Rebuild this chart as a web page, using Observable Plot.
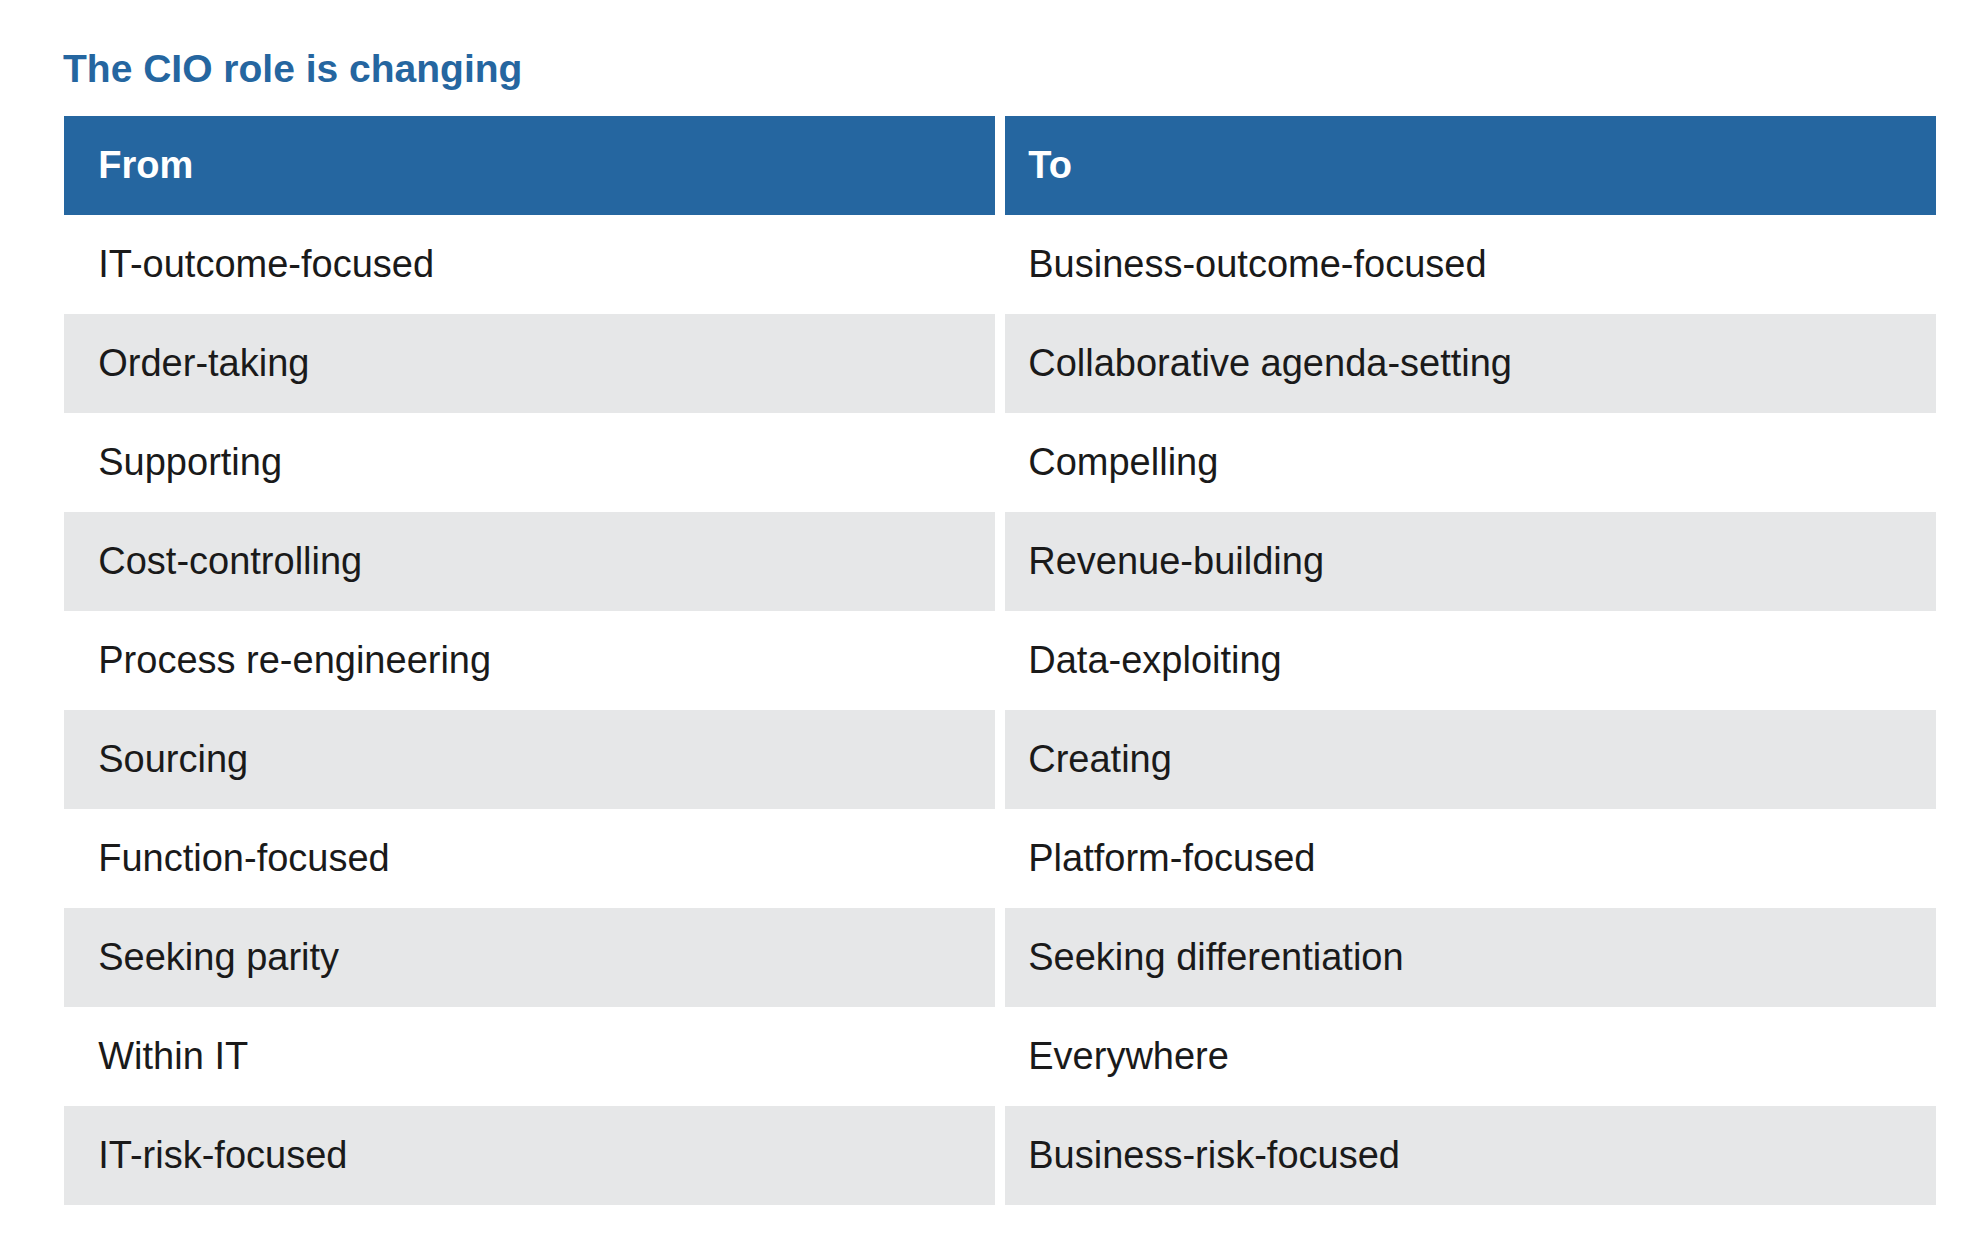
<!DOCTYPE html>
<html><head><meta charset="utf-8">
<script src="https://cdn.jsdelivr.net/npm/d3@7"></script>
<script src="https://cdn.jsdelivr.net/npm/@observablehq/plot@0.6"></script>
<style>
html,body{margin:0;padding:0;background:#fff;overflow:hidden;}
#title{height:114px;box-sizing:border-box;padding-top:49px;padding-left:63px;font:bold 39px/39px "Liberation Sans",Arial,sans-serif;color:#2566a0;white-space:nowrap;}
</style></head><body>
<div id="title">The CIO role is changing</div>
<div id="chart"></div>
<script>
const columns = ["From", "To"];
const fromRoles = ["IT-outcome-focused", "Order-taking", "Supporting", "Cost-controlling", "Process re-engineering", "Sourcing", "Function-focused", "Seeking parity", "Within IT", "IT-risk-focused"];
const toRoles = ["Business-outcome-focused", "Collaborative agenda-setting", "Compelling", "Revenue-building", "Data-exploiting", "Creating", "Platform-focused", "Seeking differentiation", "Everywhere", "Business-risk-focused"];

const rowIds = fromRoles.map((_, i) => i);
const cells = [];
rowIds.forEach(i => {
  cells.push({col: columns[0], row: i, label: fromRoles[i]});
  cells.push({col: columns[1], row: i, label: toRoles[i]});
});
const header = columns.map(c => ({col: c, row: "header", label: c}));

const W = 1984, H = 1138;
const mL = 64, mR = 47, mB = 45;
const gap = 10;
const inner = W - mL - mR;
const band = (inner - gap) / 2;
const FONT = "Liberation Sans, Arial, Helvetica, sans-serif";
const blue = "#2566a0", gray = "#e6e7e8", ink = "#1a1a1a";
const dxFrom = -band / 2 + 34, dxTo = -band / 2 + 23;

const chart = Plot.plot({
  width: W, height: H,
  marginLeft: mL, marginRight: mR, marginTop: 0, marginBottom: mB,
  style: {fontFamily: FONT, background: "#fff"},
  x: {type: "band", domain: columns, paddingInner: gap / (band + gap), paddingOuter: 0, axis: null},
  y: {type: "band", domain: ["header", ...rowIds], padding: 0, axis: null},
  marks: [
    Plot.cell(header, {x: "col", y: "row", fill: blue, inset: 0}),
    Plot.cell(cells.filter(d => d.row % 2 === 1), {x: "col", y: "row", fill: gray, inset: 0}),
    Plot.text(header.filter(d => d.col === columns[0]), {x: "col", y: "row", text: "label", textAnchor: "start", dx: dxFrom, dy: 0, fontSize: 38, fontWeight: "bold", fill: "#fff", fontFamily: FONT}),
    Plot.text(header.filter(d => d.col === columns[1]), {x: "col", y: "row", text: "label", textAnchor: "start", dx: dxTo, dy: 0, fontSize: 38, fontWeight: "bold", fill: "#fff", fontFamily: FONT}),
    Plot.text(cells.filter(d => d.col === columns[0]), {x: "col", y: "row", text: "label", textAnchor: "start", dx: dxFrom, dy: 0, fontSize: 38, fill: ink, fontFamily: FONT}),
    Plot.text(cells.filter(d => d.col === columns[1]), {x: "col", y: "row", text: "label", textAnchor: "start", dx: dxTo, dy: 0, fontSize: 38, fill: ink, fontFamily: FONT})
  ]
});
document.getElementById("chart").appendChild(chart);
</script>
</body></html>
